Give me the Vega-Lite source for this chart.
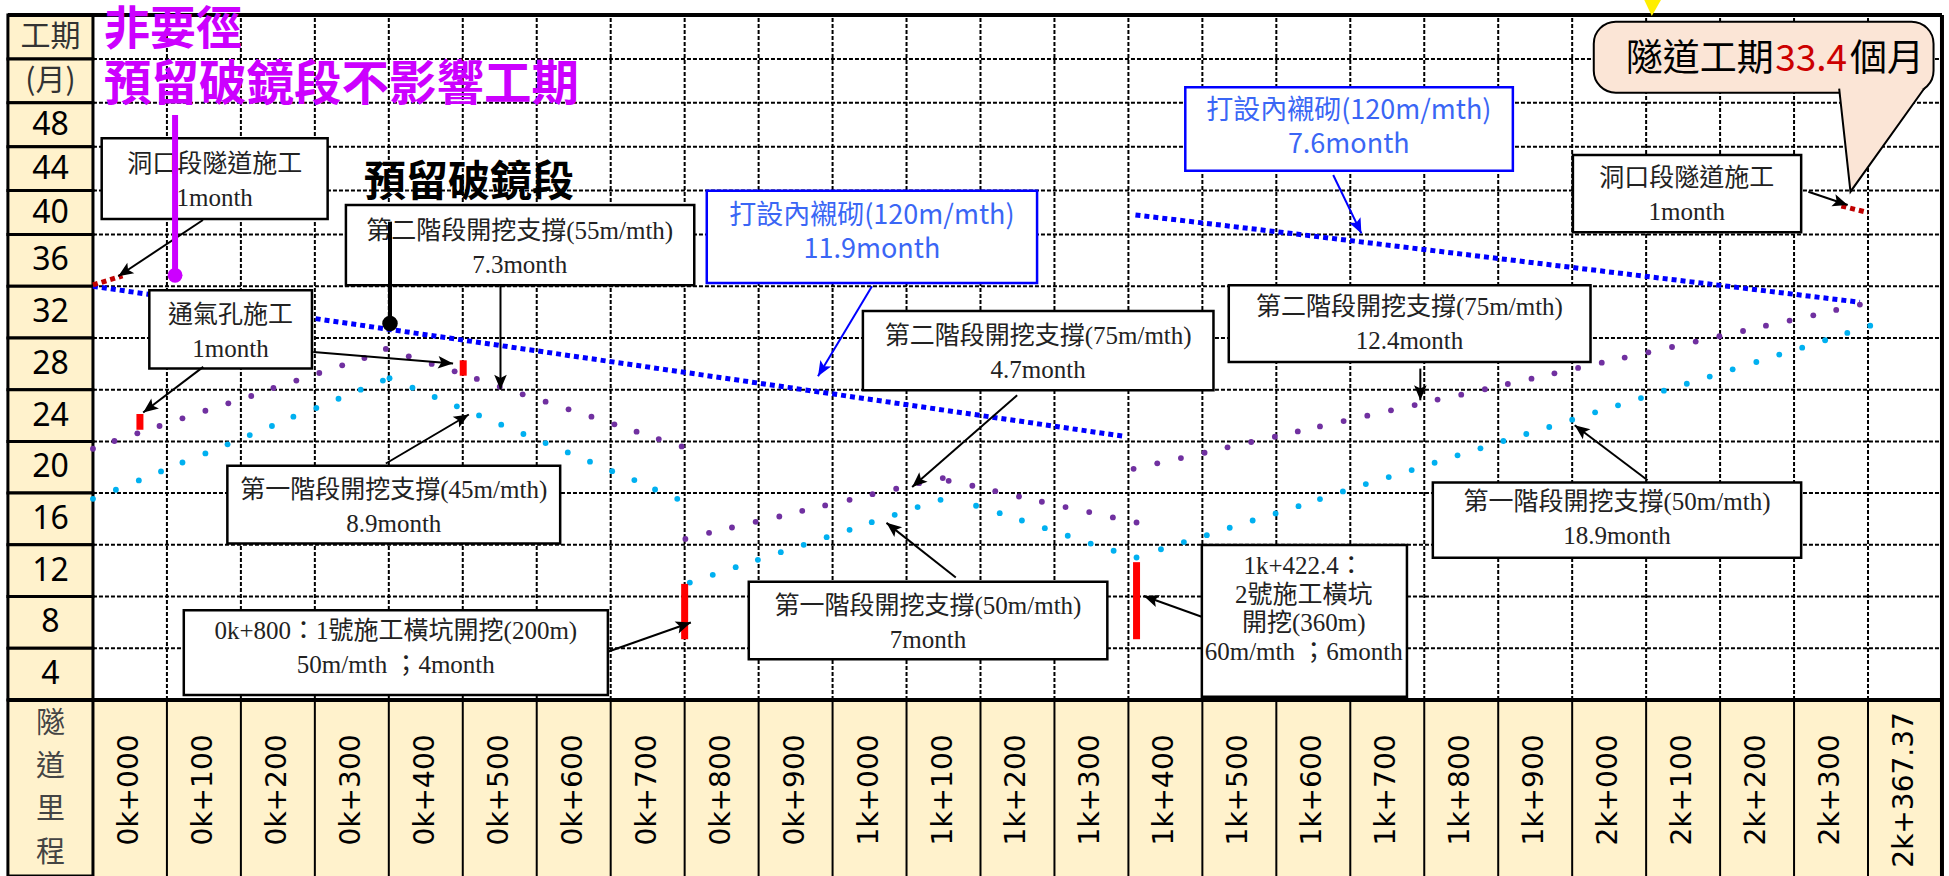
{
"$schema": "https://vega.github.io/schema/vega-lite/v6.json",
"width": 1949, "height": 876, "padding": 0,
"autosize": {"type": "none"},
"background": "#FFFFFF",
"config": {"view": {"stroke": null}, "axis": {"disable": true}, "legend": {"disable": true}},
"datasets": {
"one": [{"k": 1}],
"dots": [
{"stage":1,"c":0,"t":15.56},{"stage":1,"c":31,"t":16.26},{"stage":1,"c":62,"t":16.98},{"stage":1,"c":92,"t":17.68},{"stage":1,"c":121,"t":18.37},{"stage":1,"c":152,"t":19.07},{"stage":1,"c":182,"t":19.77},{"stage":1,"c":212,"t":20.49},{"stage":1,"c":242,"t":21.19},{"stage":1,"c":271,"t":21.91},{"stage":1,"c":302,"t":22.58},{"stage":1,"c":332,"t":23.3},{"stage":1,"c":362,"t":24.0},{"stage":1,"c":392,"t":24.7},{"stage":1,"c":401,"t":24.88},{"stage":1,"c":432,"t":24.15},{"stage":1,"c":462,"t":23.43},{"stage":1,"c":492,"t":22.71},{"stage":1,"c":522,"t":22.01},{"stage":1,"c":552,"t":21.29},{"stage":1,"c":582,"t":20.57},{"stage":1,"c":612,"t":19.87},{"stage":1,"c":642,"t":19.15},{"stage":1,"c":672,"t":18.43},{"stage":1,"c":702,"t":17.7},{"stage":1,"c":732,"t":17.01},{"stage":1,"c":760,"t":16.28},{"stage":1,"c":790,"t":15.56},
{"stage":1,"c":807,"t":9.08},{"stage":1,"c":838,"t":9.68},{"stage":1,"c":869,"t":10.27},{"stage":1,"c":899,"t":10.84},{"stage":1,"c":930,"t":11.43},{"stage":1,"c":961,"t":12.0},{"stage":1,"c":992,"t":12.59},{"stage":1,"c":1023,"t":13.16},{"stage":1,"c":1053,"t":13.75},{"stage":1,"c":1084,"t":14.32},{"stage":1,"c":1115,"t":14.92},{"stage":1,"c":1146,"t":15.48},{"stage":1,"c":1194,"t":15.02},{"stage":1,"c":1226,"t":14.45},{"stage":1,"c":1256,"t":13.88},{"stage":1,"c":1287,"t":13.29},{"stage":1,"c":1318,"t":12.7},{"stage":1,"c":1349,"t":12.1},{"stage":1,"c":1380,"t":11.54},{"stage":1,"c":1411,"t":11.02},
{"stage":1,"c":1444,"t":11.66},{"stage":1,"c":1475,"t":12.21},{"stage":1,"c":1506,"t":12.75},{"stage":1,"c":1537,"t":13.32},{"stage":1,"c":1568,"t":13.88},{"stage":1,"c":1599,"t":14.43},{"stage":1,"c":1630,"t":14.99},{"stage":1,"c":1659,"t":15.54},{"stage":1,"c":1690,"t":16.13},{"stage":1,"c":1721,"t":16.7},{"stage":1,"c":1752,"t":17.24},{"stage":1,"c":1783,"t":17.78},{"stage":1,"c":1814,"t":18.35},{"stage":1,"c":1845,"t":18.92},{"stage":1,"c":1876,"t":19.46},{"stage":1,"c":1907,"t":20.03},{"stage":1,"c":1938,"t":20.57},{"stage":1,"c":1969,"t":21.11},{"stage":1,"c":2000,"t":21.68},{"stage":1,"c":2031,"t":22.25},{"stage":1,"c":2062,"t":22.79},{"stage":1,"c":2093,"t":23.35},{"stage":1,"c":2124,"t":23.92},{"stage":1,"c":2155,"t":24.46},{"stage":1,"c":2186,"t":25.01},{"stage":1,"c":2217,"t":25.57},{"stage":1,"c":2249,"t":26.14},{"stage":1,"c":2280,"t":26.71},{"stage":1,"c":2311,"t":27.25},{"stage":1,"c":2342,"t":27.82},{"stage":1,"c":2372,"t":28.39},{"stage":1,"c":2403,"t":28.95},
{"stage":2,"c":0,"t":19.43},{"stage":2,"c":29,"t":20.03},{"stage":2,"c":60,"t":20.62},{"stage":2,"c":90,"t":21.19},{"stage":2,"c":121,"t":21.78},{"stage":2,"c":152,"t":22.37},{"stage":2,"c":183,"t":22.94},{"stage":2,"c":214,"t":23.51},{"stage":2,"c":244,"t":24.13},{"stage":2,"c":275,"t":24.7},{"stage":2,"c":306,"t":25.29},{"stage":2,"c":337,"t":25.88},{"stage":2,"c":367,"t":26.45},{"stage":2,"c":396,"t":27.15},{"stage":2,"c":427,"t":26.58},{"stage":2,"c":458,"t":25.99},{"stage":2,"c":489,"t":25.42},{"stage":2,"c":519,"t":24.83},{"stage":2,"c":550,"t":24.23},{"stage":2,"c":581,"t":23.64},{"stage":2,"c":612,"t":23.07},{"stage":2,"c":643,"t":22.48},{"stage":2,"c":674,"t":21.91},{"stage":2,"c":705,"t":21.32},{"stage":2,"c":735,"t":20.75},{"stage":2,"c":765,"t":20.18},{"stage":2,"c":796,"t":19.61},
{"stage":2,"c":801,"t":12.46},{"stage":2,"c":833,"t":12.93},{"stage":2,"c":864,"t":13.34},{"stage":2,"c":896,"t":13.78},{"stage":2,"c":928,"t":14.19},{"stage":2,"c":959,"t":14.63},{"stage":2,"c":990,"t":15.05},{"stage":2,"c":1023,"t":15.48},{"stage":2,"c":1054,"t":15.92},{"stage":2,"c":1086,"t":16.34},{"stage":2,"c":1117,"t":16.77},{"stage":2,"c":1149,"t":17.16},{"stage":2,"c":1157,"t":16.95},{"stage":2,"c":1189,"t":16.57},{"stage":2,"c":1220,"t":16.15},{"stage":2,"c":1252,"t":15.74},{"stage":2,"c":1283,"t":15.33},{"stage":2,"c":1315,"t":14.92},{"stage":2,"c":1347,"t":14.53},{"stage":2,"c":1379,"t":14.12},{"stage":2,"c":1411,"t":13.73},
{"stage":2,"c":1407,"t":17.88},{"stage":2,"c":1439,"t":18.3},{"stage":2,"c":1471,"t":18.71},{"stage":2,"c":1503,"t":19.12},{"stage":2,"c":1534,"t":19.54},{"stage":2,"c":1566,"t":19.95},{"stage":2,"c":1598,"t":20.36},{"stage":2,"c":1629,"t":20.77},{"stage":2,"c":1659,"t":21.16},{"stage":2,"c":1691,"t":21.57},{"stage":2,"c":1723,"t":21.99},{"stage":2,"c":1755,"t":22.4},{"stage":2,"c":1787,"t":22.81},{"stage":2,"c":1818,"t":23.23},{"stage":2,"c":1850,"t":23.61},{"stage":2,"c":1882,"t":24.03},{"stage":2,"c":1913,"t":24.44},{"stage":2,"c":1945,"t":24.85},{"stage":2,"c":1976,"t":25.26},{"stage":2,"c":2008,"t":25.68},{"stage":2,"c":2040,"t":26.09},{"stage":2,"c":2071,"t":26.48},{"stage":2,"c":2103,"t":26.89},{"stage":2,"c":2135,"t":27.3},{"stage":2,"c":2167,"t":27.72},{"stage":2,"c":2199,"t":28.13},{"stage":2,"c":2231,"t":28.54},{"stage":2,"c":2262,"t":28.95},{"stage":2,"c":2294,"t":29.34},{"stage":2,"c":2326,"t":29.75},{"stage":2,"c":2357,"t":30.17},{"stage":2,"c":2389,"t":30.58}
],
"boxes": [
{"c1":11.8,"c2":317.3,"t1":37.41,"t2":44.77,"cx":164.5,"cy":40.89,"text":"洞口段隧道施工\n1month","style":"serif"},
{"c1":342,"c2":813,"t1":32.08,"t2":38.69,"cx":577,"cy":34.97,"text":"第二階段開挖支撐(55m/mth)\n7.3month","style":"serif"},
{"c1":76.2,"c2":296.1,"t1":25.63,"t2":31.68,"cx":186,"cy":28.48,"text":"通氣孔施工\n1month","style":"serif"},
{"c1":181.7,"c2":631.7,"t1":12.11,"t2":18.11,"cx":406.7,"cy":14.94,"text":"第一階段開挖支撐(45m/mth)\n8.9month","style":"serif"},
{"c1":122.8,"c2":696.2,"t1":0.39,"t2":6.95,"cx":409.5,"cy":3.99,"text":"0k+800：1號施工橫坑開挖(200m)\n50m/mth ；4month","style":"serif"},
{"c1":829.9,"c2":1276.5,"t1":32.25,"t2":39.99,"cx":1053.2,"cy":36.1,"text":"打設內襯砌(120m/mth)\n11.9month","style":"blue"},
{"c1":1041,"c2":1515,"t1":23.96,"t2":30.09,"cx":1278,"cy":26.85,"text":"第二階段開挖支撐(75m/mth)\n4.7month","style":"serif"},
{"c1":886.7,"c2":1371.5,"t1":3.15,"t2":9.14,"cx":1129,"cy":5.99,"text":"第一階段開挖支撐(50m/mth)\n7month","style":"serif"},
{"c1":1499.3,"c2":1776.6,"t1":0.26,"t2":11.98,"cx":1637,"cy":7.02,"text":"1k+422.4：\n2號施工橫坑\n開挖(360m)\n60m/mth ；6month","style":"tall"},
{"c1":1476.9,"c2":1919.8,"t1":41.81,"t2":49.41,"cx":1698,"cy":45.68,"text":"打設內襯砌(120m/mth)\n7.6month","style":"blue"},
{"c1":2001,"c2":2309.6,"t1":36.2,"t2":43.24,"cx":2155,"cy":39.6,"text":"洞口段隧道施工\n1month","style":"serif"},
{"c1":1535.7,"c2":2024.8,"t1":26.14,"t2":32.07,"cx":1780,"cy":29.1,"text":"第二階段開挖支撐(75m/mth)\n12.4month","style":"serif"},
{"c1":1811.6,"c2":2309.6,"t1":11.0,"t2":16.82,"cx":2060.6,"cy":13.97,"text":"第一階段開挖支撐(50m/mth)\n18.9month","style":"serif"}
],
"arrows": [
{"c1":148.7,"t1":37.32,"c2":34.2,"t2":32.77,"heading":236.6,"kind":"main"},
{"c1":149.1,"t1":25.76,"c2":67.9,"t2":22.23,"heading":232.8,"kind":"main"},
{"c1":297.9,"t1":26.92,"c2":486.9,"t2":26.02,"heading":94.7,"kind":"main"},
{"c1":551,"t1":32.08,"c2":551,"t2":24.0,"heading":180,"kind":"main"},
{"c1":396,"t1":18.29,"c2":508.2,"t2":22.08,"heading":59.4,"kind":"main"},
{"c1":696.2,"t1":3.73,"c2":808.4,"t2":5.99,"heading":70.9,"kind":"main"},
{"c1":1053.3,"t1":31.99,"c2":980.3,"t2":25.04,"heading":211,"kind":"lining"},
{"c1":1249.6,"t1":23.57,"c2":1107.6,"t2":16.48,"heading":228.9,"kind":"main"},
{"c1":1166.6,"t1":9.48,"c2":1072.9,"t2":13.7,"heading":308.2,"kind":"main"},
{"c1":1499,"t1":6.44,"c2":1420.8,"t2":8.04,"heading":289.6,"kind":"main"},
{"c1":1676.9,"t1":41.42,"c2":1715,"t2":36.1,"heading":154.2,"kind":"lining"},
{"c1":2319.3,"t1":39.9,"c2":2372.5,"t2":38.69,"heading":108.6,"kind":"main"},
{"c1":1794.7,"t1":25.63,"c2":1794.7,"t2":23.18,"heading":180,"kind":"main"},
{"c1":2102,"t1":17.0,"c2":2003.4,"t2":21.25,"heading":307,"kind":"main"}
],
"rows": [
{"lo":52,"hi":56,"mid":54,"label":"工期","kind":"head"},
{"lo":48,"hi":52,"mid":50,"label":"(月)","kind":"head"},
{"lo":44,"hi":48,"mid":46,"label":"48","kind":"num"},
{"lo":40,"hi":44,"mid":42,"label":"44","kind":"num"},
{"lo":36,"hi":40,"mid":38,"label":"40","kind":"num"},
{"lo":32,"hi":36,"mid":34,"label":"36","kind":"num"},
{"lo":28,"hi":32,"mid":30,"label":"32","kind":"num"},
{"lo":24,"hi":28,"mid":26,"label":"28","kind":"num"},
{"lo":20,"hi":24,"mid":22,"label":"24","kind":"num"},
{"lo":16,"hi":20,"mid":18,"label":"20","kind":"num"},
{"lo":12,"hi":16,"mid":14,"label":"16","kind":"num"},
{"lo":8,"hi":12,"mid":10,"label":"12","kind":"num"},
{"lo":4,"hi":8,"mid":6,"label":"8","kind":"num"},
{"lo":0,"hi":4,"mid":2,"label":"4","kind":"num"},
{"lo":-13.6,"hi":0,"mid":-6.8,"label":"隧\n道\n里\n程","kind":"foot"}
],
"cols": [{"c":100},{"c":200},{"c":300},{"c":400},{"c":500},{"c":600},{"c":700},{"c":800},{"c":900},{"c":1000},{"c":1100},{"c":1200},{"c":1300},{"c":1400},{"c":1500},{"c":1600},{"c":1700},{"c":1800},{"c":1900},{"c":2000},{"c":2100},{"c":2200},{"c":2300},{"c":2400}],
"xlabels": [
{"c":50,"label":"0k+000"},{"c":150,"label":"0k+100"},{"c":250,"label":"0k+200"},{"c":350,"label":"0k+300"},{"c":450,"label":"0k+400"},{"c":550,"label":"0k+500"},{"c":650,"label":"0k+600"},{"c":750,"label":"0k+700"},{"c":850,"label":"0k+800"},{"c":950,"label":"0k+900"},
{"c":1050,"label":"1k+000"},{"c":1150,"label":"1k+100"},{"c":1250,"label":"1k+200"},{"c":1350,"label":"1k+300"},{"c":1450,"label":"1k+400"},{"c":1550,"label":"1k+500"},{"c":1650,"label":"1k+600"},{"c":1750,"label":"1k+700"},{"c":1850,"label":"1k+800"},{"c":1950,"label":"1k+900"},
{"c":2050,"label":"2k+000"},{"c":2150,"label":"2k+100"},{"c":2250,"label":"2k+200"},{"c":2350,"label":"2k+300"},{"c":2450,"label":"2k+367.37"}
]
},
"layer": [
{"data": {"name": "one"}, "mark": {"type": "rect", "fill": "#FFF2CC"},
 "encoding": {
  "x": {"datum": 0, "type": "quantitative", "scale": {"domain": [-125.7, 2509.5], "nice": false, "zero": false}, "axis": null},
  "x2": {"datum": 2500},
  "y": {"datum": -13.6, "type": "quantitative", "scale": {"domain": [-13.6, 0, 36, 56, 57.37], "range": [876, 700, 234.5, 15, 0], "nice": false, "zero": false}, "axis": null},
  "y2": {"datum": 0}}},
{"data": {"values": [{"t":4},{"t":8},{"t":12},{"t":16},{"t":20},{"t":24},{"t":28},{"t":32},{"t":36},{"t":40},{"t":44},{"t":48},{"t":52}]},
 "mark": {"type": "rule", "color": "#000000", "strokeWidth": 2, "strokeDash": [4, 2]},
 "encoding": {"x": {"datum": 0, "type": "quantitative"}, "x2": {"datum": 2500}, "y": {"field": "t", "type": "quantitative"}}},
{"data": {"name": "cols"},
 "mark": {"type": "rule", "color": "#000000", "strokeWidth": 2, "strokeDash": [4, 2]},
 "encoding": {"x": {"field": "c", "type": "quantitative"}, "y": {"datum": 0, "type": "quantitative"}, "y2": {"datum": 56}}},
{"data": {"name": "cols"},
 "mark": {"type": "rule", "color": "#000000", "strokeWidth": 2},
 "encoding": {"x": {"field": "c", "type": "quantitative"}, "y": {"datum": -13.6, "type": "quantitative"}, "y2": {"datum": 0}}},
{"data": {"name": "rows"},
 "mark": {"type": "rect", "fill": "#FFF2CC", "stroke": "#000000", "strokeWidth": 3},
 "encoding": {"x": {"datum": -115, "type": "quantitative"}, "x2": {"datum": 0}, "y": {"field": "lo", "type": "quantitative"}, "y2": {"field": "hi"}}},
{"data": {"values": [{"x1":-115,"x2":2500,"y1":56,"y2":56},{"x1":-115,"x2":2500,"y1":0,"y2":0},{"x1":2500,"x2":2500,"y1":-13.6,"y2":56}]},
 "mark": {"type": "rule", "color": "#000000", "strokeWidth": 4},
 "encoding": {"x": {"field": "x1", "type": "quantitative"}, "x2": {"field": "x2"}, "y": {"field": "y1", "type": "quantitative"}, "y2": {"field": "y2"}}},
{"data": {"name": "rows"}, "transform": [{"filter": "datum.kind == 'num'"}],
 "mark": {"type": "text", "font": "Noto Sans", "fontSize": 32, "color": "#000000", "align": "center", "baseline": "middle"},
 "encoding": {"x": {"datum": -57.5, "type": "quantitative"}, "y": {"field": "mid", "type": "quantitative"}, "text": {"field": "label"}}},
{"data": {"name": "rows"}, "transform": [{"filter": "datum.kind == 'head'"}],
 "mark": {"type": "text", "font": "Noto Sans CJK TC", "fontSize": 30, "color": "#333333", "align": "center", "baseline": "middle"},
 "encoding": {"x": {"datum": -57.5, "type": "quantitative"}, "y": {"field": "mid", "type": "quantitative"}, "text": {"field": "label"}}},
{"data": {"name": "rows"}, "transform": [{"filter": "datum.kind == 'foot'"}],
 "mark": {"type": "text", "font": "Noto Sans CJK TC", "fontSize": 29, "color": "#444444", "align": "center", "baseline": "middle", "lineBreak": "\n", "lineHeight": 43, "dy": -64},
 "encoding": {"x": {"datum": -57.5, "type": "quantitative"}, "y": {"field": "mid", "type": "quantitative"}, "text": {"field": "label"}}},
{"data": {"name": "xlabels"},
 "mark": {"type": "text", "font": "DejaVu Sans", "fontSize": 28, "color": "#000000", "align": "center", "baseline": "middle", "angle": 270},
 "encoding": {"x": {"field": "c", "type": "quantitative"}, "y": {"datum": -6.95, "type": "quantitative"}, "text": {"field": "label"}}},
{"data": {"values": [{"seg":"A","c":0,"t":32.0},{"seg":"A","c":1393,"t":20.4},{"seg":"B","c":1409.5,"t":37.78},{"seg":"B","c":1632,"t":36.0},{"seg":"B","c":2389,"t":30.76}]},
 "mark": {"type": "line", "color": "#0000FF", "strokeWidth": 5, "strokeDash": [5, 4], "strokeCap": "butt"},
 "encoding": {"x": {"field": "c", "type": "quantitative"}, "y": {"field": "t", "type": "quantitative"}, "detail": {"field": "seg"}}},
{"data": {"values": [{"seg":"L","c":0,"t":32.1},{"seg":"L","c":40,"t":32.8},{"seg":"R","c":2364,"t":38.6},{"seg":"R","c":2400,"t":38.0}]},
 "mark": {"type": "line", "color": "#C00000", "strokeWidth": 5, "strokeDash": [5, 4], "strokeCap": "butt"},
 "encoding": {"x": {"field": "c", "type": "quantitative"}, "y": {"field": "t", "type": "quantitative"}, "detail": {"field": "seg"}}},
{"data": {"name": "dots"}, "transform": [{"filter": "datum.stage == 2"}],
 "mark": {"type": "circle", "size": 34, "color": "#7030A0", "opacity": 1},
 "encoding": {"x": {"field": "c", "type": "quantitative"}, "y": {"field": "t", "type": "quantitative"}}},
{"data": {"name": "dots"}, "transform": [{"filter": "datum.stage == 1"}],
 "mark": {"type": "circle", "size": 34, "color": "#00B0F0", "opacity": 1},
 "encoding": {"x": {"field": "c", "type": "quantitative"}, "y": {"field": "t", "type": "quantitative"}}},
{"data": {"values": [{"c":63.5,"t1":20.9,"t2":22.12},{"c":500.6,"t1":25.08,"t2":26.27},{"c":800,"t1":4.7,"t2":8.98},{"c":1411,"t1":4.7,"t2":10.66}]},
 "mark": {"type": "rule", "color": "#FF0000", "strokeWidth": 7},
 "encoding": {"x": {"field": "c", "type": "quantitative"}, "y": {"field": "t1", "type": "quantitative"}, "y2": {"field": "t2"}}},
{"data": {"name": "boxes"}, "transform": [{"filter": "datum.style != 'blue'"}],
 "mark": {"type": "rect", "fill": "#FFFFFF", "stroke": "#000000", "strokeWidth": 2.5},
 "encoding": {"x": {"field": "c1", "type": "quantitative"}, "x2": {"field": "c2"}, "y": {"field": "t1", "type": "quantitative"}, "y2": {"field": "t2"}}},
{"data": {"name": "boxes"}, "transform": [{"filter": "datum.style == 'blue'"}],
 "mark": {"type": "rect", "fill": "#FFFFFF", "stroke": "#0000FF", "strokeWidth": 2.5},
 "encoding": {"x": {"field": "c1", "type": "quantitative"}, "x2": {"field": "c2"}, "y": {"field": "t1", "type": "quantitative"}, "y2": {"field": "t2"}}},
{"data": {"name": "boxes"}, "transform": [{"filter": "datum.style == 'serif'"}],
 "mark": {"type": "text", "font": "Liberation Serif, Noto Sans CJK TC", "fontSize": 25, "color": "#222222", "align": "center", "baseline": "middle", "lineBreak": "\n", "lineHeight": 34, "dy": -17},
 "encoding": {"x": {"field": "cx", "type": "quantitative"}, "y": {"field": "cy", "type": "quantitative"}, "text": {"field": "text"}}},
{"data": {"name": "boxes"}, "transform": [{"filter": "datum.style == 'tall'"}],
 "mark": {"type": "text", "font": "Liberation Serif, Noto Sans CJK TC", "fontSize": 25, "color": "#222222", "align": "center", "baseline": "middle", "lineBreak": "\n", "lineHeight": 28.5, "dy": -43},
 "encoding": {"x": {"field": "cx", "type": "quantitative"}, "y": {"field": "cy", "type": "quantitative"}, "text": {"field": "text"}}},
{"data": {"name": "boxes"}, "transform": [{"filter": "datum.style == 'blue'"}],
 "mark": {"type": "text", "font": "Noto Sans CJK TC", "fontSize": 27, "color": "#3A66F5", "align": "center", "baseline": "middle", "lineBreak": "\n", "lineHeight": 34, "dy": -17},
 "encoding": {"x": {"field": "cx", "type": "quantitative"}, "y": {"field": "cy", "type": "quantitative"}, "text": {"field": "text"}}},
{"data": {"name": "arrows"}, "transform": [{"filter": "datum.kind == 'main'"}],
 "mark": {"type": "rule", "color": "#000000", "strokeWidth": 2},
 "encoding": {"x": {"field": "c1", "type": "quantitative"}, "x2": {"field": "c2"}, "y": {"field": "t1", "type": "quantitative"}, "y2": {"field": "t2"}}},
{"data": {"name": "arrows"}, "transform": [{"filter": "datum.kind == 'lining'"}],
 "mark": {"type": "rule", "color": "#0000FF", "strokeWidth": 2},
 "encoding": {"x": {"field": "c1", "type": "quantitative"}, "x2": {"field": "c2"}, "y": {"field": "t1", "type": "quantitative"}, "y2": {"field": "t2"}}},
{"data": {"name": "arrows"}, "transform": [{"filter": "datum.kind == 'main'"}],
 "mark": {"type": "point", "shape": "M0,0 L0.42,1 L0,0.78 L-0.42,1 Z", "filled": true, "color": "#000000", "size": 900, "opacity": 1},
 "encoding": {"x": {"field": "c2", "type": "quantitative"}, "y": {"field": "t2", "type": "quantitative"}, "angle": {"field": "heading", "type": "quantitative", "scale": null}}},
{"data": {"name": "arrows"}, "transform": [{"filter": "datum.kind == 'lining'"}],
 "mark": {"type": "point", "shape": "M0,0 L0.42,1 L0,0.78 L-0.42,1 Z", "filled": true, "color": "#0000FF", "size": 900, "opacity": 1},
 "encoding": {"x": {"field": "c2", "type": "quantitative"}, "y": {"field": "t2", "type": "quantitative"}, "angle": {"field": "heading", "type": "quantitative", "scale": null}}},
{"data": {"values": [{"c":111,"t1":32.84,"t2":46.89}]},
 "mark": {"type": "rule", "color": "#CC00FF", "strokeWidth": 6},
 "encoding": {"x": {"field": "c", "type": "quantitative"}, "y": {"field": "t1", "type": "quantitative"}, "y2": {"field": "t2"}}},
{"data": {"values": [{"c":111,"t":32.84}]},
 "mark": {"type": "circle", "color": "#CC00FF", "size": 220, "opacity": 1},
 "encoding": {"x": {"field": "c", "type": "quantitative"}, "y": {"field": "t", "type": "quantitative"}}},
{"data": {"values": [{"c":401.6,"t1":29.11,"t2":37.17}]},
 "mark": {"type": "rule", "color": "#000000", "strokeWidth": 4},
 "encoding": {"x": {"field": "c", "type": "quantitative"}, "y": {"field": "t1", "type": "quantitative"}, "y2": {"field": "t2"}}},
{"data": {"values": [{"c":401.6,"t":29.11}]},
 "mark": {"type": "circle", "color": "#000000", "size": 240, "opacity": 1},
 "encoding": {"x": {"field": "c", "type": "quantitative"}, "y": {"field": "t", "type": "quantitative"}}},
{"data": {"values": [{"c":14.9,"t":54.6,"text":"非要徑"}]},
 "mark": {"type": "text", "font": "Noto Sans CJK TC", "fontWeight": "bold", "fontSize": 46, "color": "#CC00FF", "align": "left", "baseline": "middle"},
 "encoding": {"x": {"field": "c", "type": "quantitative"}, "y": {"field": "t", "type": "quantitative"}, "text": {"field": "text"}}},
{"data": {"values": [{"c":14.9,"t":49.53,"text":"預留破鏡段不影響工期"}]},
 "mark": {"type": "text", "font": "Noto Sans CJK TC", "fontWeight": "bold", "fontSize": 47.5, "color": "#CC00FF", "align": "left", "baseline": "middle"},
 "encoding": {"x": {"field": "c", "type": "quantitative"}, "y": {"field": "t", "type": "quantitative"}, "text": {"field": "text"}}},
{"data": {"values": [{"c":508.4,"t":40.7,"text":"預留破鏡段"}]},
 "mark": {"type": "text", "font": "Noto Sans CJK TC", "fontWeight": "bold", "fontSize": 42, "color": "#000000", "align": "center", "baseline": "middle"},
 "encoding": {"x": {"field": "c", "type": "quantitative"}, "y": {"field": "t", "type": "quantitative"}, "text": {"field": "text"}}},
{"data": {"values": [{"c1":2029.2,"c2":2488.6,"t1":48.92,"t2":55.39}]},
 "mark": {"type": "rect", "fill": "#FBE5D6", "stroke": "#000000", "strokeWidth": 2, "cornerRadius": 22},
 "encoding": {"x": {"field": "c1", "type": "quantitative"}, "x2": {"field": "c2"}, "y": {"field": "t1", "type": "quantitative"}, "y2": {"field": "t2"}}},
{"data": {"values": [{"c":2361,"t":49.3},{"c":2376.3,"t":39.9},{"c":2476,"t":49.3}]},
 "mark": {"type": "area", "fill": "#FBE5D6", "opacity": 1},
 "encoding": {"x": {"field": "c", "type": "quantitative"}, "y": {"field": "t", "type": "quantitative"}, "y2": {"datum": 49.3}}},
{"data": {"values": [{"c":2361,"t":49.3},{"c":2376.3,"t":39.9},{"c":2476,"t":49.3}]},
 "mark": {"type": "line", "color": "#000000", "strokeWidth": 2},
 "encoding": {"x": {"field": "c", "type": "quantitative"}, "y": {"field": "t", "type": "quantitative"}}},
{"data": {"values": [{"c":2072.6,"t":51.9,"text":"隧道工期"},{"c":2375.6,"t":51.9,"text":"個月"}]},
 "mark": {"type": "text", "font": "Noto Sans CJK TC", "fontSize": 37, "color": "#000000", "align": "left", "baseline": "middle"},
 "encoding": {"x": {"field": "c", "type": "quantitative"}, "y": {"field": "t", "type": "quantitative"}, "text": {"field": "text"}}},
{"data": {"values": [{"c":2274.5,"t":51.9,"text":"33.4"}]},
 "mark": {"type": "text", "font": "Noto Sans CJK TC", "fontSize": 37, "color": "#CC0000", "align": "left", "baseline": "middle"},
 "encoding": {"x": {"field": "c", "type": "quantitative"}, "y": {"field": "t", "type": "quantitative"}, "text": {"field": "text"}}},
{"data": {"values": [{"c":2097.5,"t":57.37},{"c":2107.7,"t":55.9},{"c":2120,"t":57.37}]},
 "mark": {"type": "area", "fill": "#FFEE00", "opacity": 1},
 "encoding": {"x": {"field": "c", "type": "quantitative"}, "y": {"field": "t", "type": "quantitative"}, "y2": {"datum": 57.37}}}
]
}
